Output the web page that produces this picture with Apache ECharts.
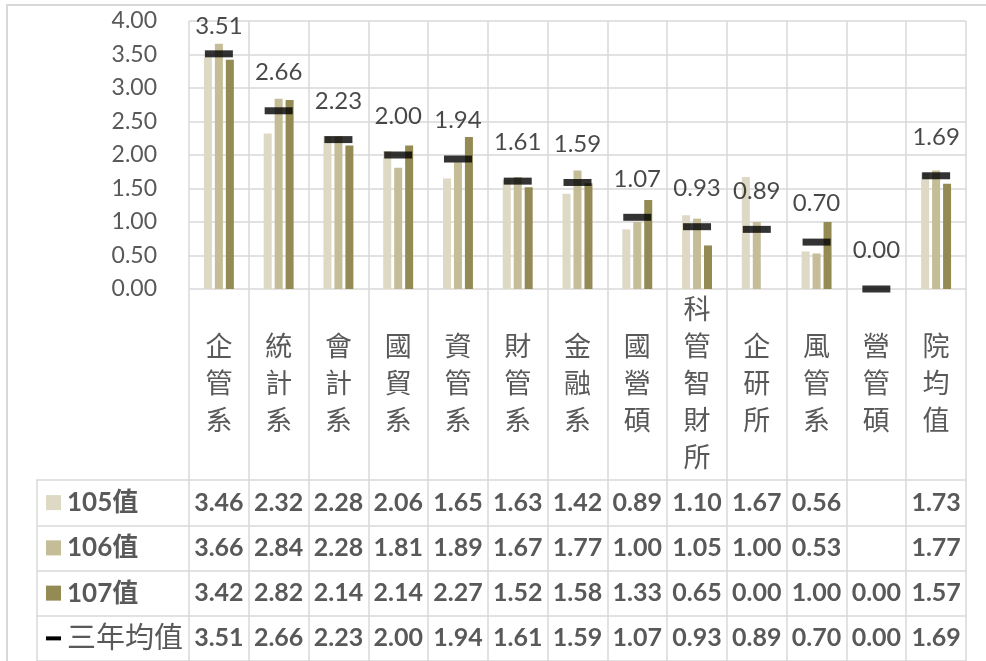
<!DOCTYPE html>
<html>
<head>
	<meta charset="utf-8"/>
	<title>各系所三年均值</title>
	<script src="https://cdn.jsdelivr.net/npm/echarts@6/dist/echarts.min.js"></script>
	<style>
		html, body { margin: 0; padding: 0; background: #fff; }
		#chart { width: 986px; height: 661px; }
		/* outer frame of the excel chart area */
		#frame {
			position: absolute; left: 6px; top: 4px; right: 0; bottom: 0;
			border-top: 2px solid #d9d9d9; border-left: 2px solid #d9d9d9;
			pointer-events: none;
		}
	</style>
</head>
<body>
	<div id="chart"></div>
	<div id="frame"></div>
	<script>
		// data
		const categories = ['企管系', '統計系', '會計系', '國貿系', '資管系', '財管系', '金融系', '國營碩', '科管智財所', '企研所', '風管系', '營管碩', '院均值'];
		const rowNames = ['105值', '106值', '107值', '三年均值'];
		const values105 = [3.46, 2.32, 2.28, 2.06, 1.65, 1.63, 1.42, 0.89, 1.10, 1.67, 0.56, null, 1.73];
		const values106 = [3.66, 2.84, 2.28, 1.81, 1.89, 1.67, 1.77, 1.00, 1.05, 1.00, 0.53, null, 1.77];
		const values107 = [3.42, 2.82, 2.14, 2.14, 2.27, 1.52, 1.58, 1.33, 0.65, 0.00, 1.00, 0.00, 1.57];
		const avg3y = [3.51, 2.66, 2.23, 2.00, 1.94, 1.61, 1.59, 1.07, 0.93, 0.89, 0.70, 0.00, 1.69];
		const yMin = 0, yMax = 4, yStep = 0.5;

		const colors = ['#DDD9C4', '#C4BD97', '#948A54', '#000000'];
		const latin = 'Lato, "Noto Sans CJK TC", sans-serif';
		const gray = '#595959';
		const lineColor = '#d9d9d9';

		const fmt = v => (v == null ? '' : v.toFixed(2));
		const rows = [values105, values106, values107, avg3y];

		// plot geometry (px)
		const plotLeft = 189, plotRight = 20, plotTop = 21, plotHeight = 268;
		const tableTop = 480, tableLeft = 37;
		const rowH = (661 - tableTop) / rows.length;
		const axisY = plotTop + plotHeight;

		// one hidden category axis per table row, text only
		const tableAxes = rows.map((vals, i) => ({
			type: 'category', gridIndex: 0, position: 'bottom',
			offset: tableTop + rowH * (i + 0.5) - axisY,
			data: vals.map(fmt),
			axisLine: {show: false}, axisTick: {show: false}, splitLine: {show: false},
			axisLabel: {interval: 0, margin: 0, verticalAlign: 'middle', fontFamily: latin,
				fontSize: 25, fontWeight: 'bold', color: gray}
		}));

		const richKeys = {};
		rowNames.forEach((n, i) => {
			richKeys['k' + i] = {width: 15, height: i < 3 ? 15 : 4, backgroundColor: colors[i]};
		});
		richKeys.b = {fontFamily: latin, fontSize: 26, fontWeight: 'bold', color: gray, padding: [0, 0, 0, 6]};
		richKeys.n = {fontFamily: latin, fontSize: 29, color: gray, padding: [0, 0, 0, 6]};

		const barSeries = [values105, values106, values107].map((vals, i) => ({
			name: rowNames[i], type: 'bar', xAxisIndex: 0, yAxisIndex: 0,
			data: vals, barWidth: 8, barGap: '37%',
			itemStyle: {color: colors[i]}
		}));

		const option = {
			animation: false,
			textStyle: {fontFamily: latin},
			grid: [
				{left: plotLeft, right: plotRight, top: plotTop, height: plotHeight, containLabel: false, outerBoundsMode: 'none'},
				{left: plotLeft, right: plotRight, top: plotTop, bottom: 0, containLabel: false, outerBoundsMode: 'none'},
				{left: tableLeft, right: plotRight, top: tableTop, bottom: 0, containLabel: false, outerBoundsMode: 'none'}
			],
			xAxis: [
				{
					type: 'category', gridIndex: 0, data: categories,
					axisLine: {show: false}, axisTick: {show: false}, splitLine: {show: false},
					axisLabel: {
						interval: 0, margin: 94, verticalAlign: 'middle', lineHeight: 37,
						fontFamily: '"Noto Sans CJK TC", sans-serif', fontSize: 27, color: gray,
						formatter: s => s.split('').join('\n')
					}
				},
				...tableAxes,
				{
					type: 'category', gridIndex: 1, data: categories,
					axisLine: {show: false}, axisTick: {show: false, interval: 0}, axisLabel: {show: false, interval: 0},
					splitLine: {show: true, interval: 0, showMinLine: true, showMaxLine: true, lineStyle: {color: lineColor, width: 1.5}}
				},
				{type: 'value', gridIndex: 2, show: false, min: 0, max: 1}
			],
			yAxis: [
				{
					type: 'value', gridIndex: 0, min: yMin, max: yMax, interval: yStep,
					axisLine: {show: false}, axisTick: {show: false},
					splitLine: {show: true, lineStyle: {color: lineColor, width: 1.5}},
					axisLabel: {margin: 32, fontFamily: latin, fontSize: 23, color: gray, formatter: v => v.toFixed(2)}
				},
				{type: 'value', gridIndex: 1, show: false, min: 0, max: 1},
				{
					type: 'category', gridIndex: 2, data: rowNames, inverse: true,
					axisLine: {show: true, lineStyle: {color: lineColor, width: 1.5}},
					axisTick: {show: false},
					splitLine: {show: true, interval: 0, showMinLine: true, showMaxLine: true, lineStyle: {color: lineColor, width: 1.5}},
					axisLabel: {
						inside: true, margin: 9, interval: 0, rich: richKeys,
						formatter: (name, i) => `{k${i}|}{${i < 3 ? 'b' : 'n'}|${name}}`
					}
				}
			],
			series: [
				...barSeries,
				{
					name: rowNames[3], type: 'scatter', xAxisIndex: 0, yAxisIndex: 0, z: 5, clip: false,
					symbol: 'rect', symbolSize: [28, 7],
					itemStyle: {color: colors[3]},
					data: avg3y.map(v => ({value: v, label: {distance: v > 3.3 ? 12 : 23}})),
					label: {show: true, position: 'top', fontFamily: latin, fontSize: 24, color: '#1a1a1a',
						formatter: p => fmt(p.value)}
				}
			]
		};

		const chart = echarts.init(document.getElementById('chart'));
		chart.setOption(option);
	</script>
</body>
</html>
